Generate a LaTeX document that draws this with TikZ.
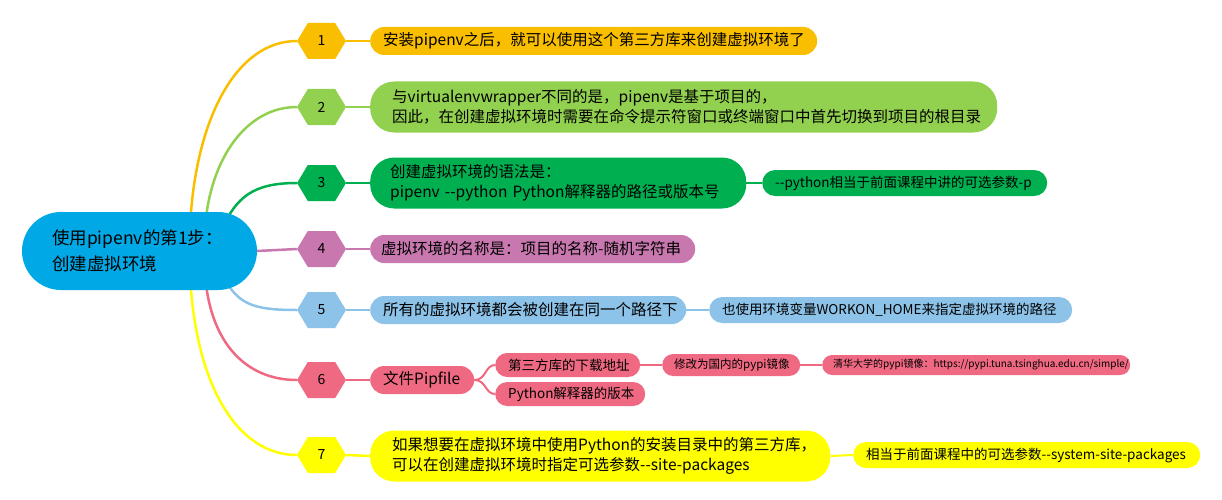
\documentclass[tikz,border=0pt]{standalone}
\usepackage{fontspec}
\setmainfont{Noto Sans CJK SC}
\usetikzlibrary{shapes.symbols,backgrounds}
\definecolor{croot}{RGB}{0,169,230}
\definecolor{c1}{RGB}{250,190,0}
\definecolor{c2}{RGB}{146,208,80}
\definecolor{c3}{RGB}{0,176,80}
\definecolor{c4}{RGB}{200,120,175}
\definecolor{c5}{RGB}{141,195,233}
\definecolor{c6}{RGB}{240,105,130}
\definecolor{c7}{RGB}{255,255,0}
\newcommand\myfs[2]{\fontsize{#1}{#2}\selectfont}
\newcommand\dd{-\kern0pt-}
\tikzset{
  hexa/.style={signal, signal to=east and west, signal pointer angle=118,
    minimum width=49pt, minimum height=36pt, inner sep=0pt, font=\myfs{14}{16}},
  tbox/.style={anchor=west, align=left, inner ysep=0pt, inner xsep=13pt},
  one/.style={tbox, minimum height=28pt, rounded corners=14pt, font=\myfs{15.5}{20}},
  two/.style={tbox, inner xsep=22pt, minimum height=51pt, rounded corners=24pt, font=\myfs{15.5}{20}},
  sec/.style={tbox, minimum height=26pt, rounded corners=13pt, font=\myfs{13.5}{16}},
  link/.style={line width=2.5pt},
  sublink/.style={line width=2pt},
}
\begin{document}
\begin{tikzpicture}[x=1pt,y=-1pt]
\useasboundingbox (0,0) rectangle (1222,500);
% root
\node[fill=croot, rounded corners=39pt, minimum height=78pt, text width=175pt,
  inner xsep=30pt, inner ysep=0pt, align=left, font=\myfs{17.5}{26}] (root) at (139.5,251)
  {使用pipenv的第1步：\\创建虚拟环境};
\coordinate (r1) at (190,228);
\coordinate (r2) at (205,228);
\coordinate (r3) at (222,228);
\coordinate (r5) at (222,274);
\coordinate (r6) at (205,274);
\coordinate (r7) at (190,274);
% hexagons
\node[hexa, fill=c1] (h1) at (321.5,41) {1};
\node[hexa, fill=c2] (h2) at (321.5,107) {2};
\node[hexa, fill=c3] (h3) at (321.5,183) {3};
\node[hexa, fill=c4] (h4) at (321.5,249) {4};
\node[hexa, fill=c5] (h5) at (321.5,310) {5};
\node[hexa, fill=c6] (h6) at (321.5,380) {6};
\node[hexa, fill=c7] (h7) at (321.5,455) {7};
% main boxes
\node[one, fill=c1, text width=421pt] (b1) at (370,41)
  {安装pipenv之后，就可以使用这个第三方库来创建虚拟环境了};
\node[two, fill=c2, text width=583pt] (b2) at (370,107)
  {与virtualenvwrapper不同的是，pipenv是基于项目的，\\因此，在创建虚拟环境时需要在命令提示符窗口或终端窗口中首先切换到项目的根目录};
\node[two, fill=c3, text width=336pt, inner xsep=20pt] (b3) at (370,183)
  {创建虚拟环境的语法是：\\pipenv~\dd python~Python解释器的路径或版本号};
\node[one, fill=c4, text width=303pt, inner xsep=11pt] (b4) at (370,249)
  {虚拟环境的名称是：项目的名称-随机字符串};
\node[one, fill=c5, text width=290pt] (b5) at (370,310)
  {所有的虚拟环境都会被创建在同一个路径下};
\node[one, fill=c6, text width=78pt] (b6) at (370,380) {文件Pipfile};
\node[two, fill=c7, text width=416pt] (b7) at (370,456)
  {如果想要在虚拟环境中使用Python的安装目录中的第三方库，\\可以在创建虚拟环境时指定可选参数\dd site-packages};
% secondary boxes
\node[sec, fill=c3, text width=259pt] (s3) at (762,183) {\dd python相当于前面课程中讲的可选参数-p};
\node[sec, fill=c5, text width=337pt] (s5) at (709,310) {也使用环境变量WORKON\_HOME来指定虚拟环境的路径};
\node[sec, fill=c7, text width=321pt] (s7) at (853,455) {相当于前面课程中的可选参数\dd system-site-packages};
\node[tbox, fill=c6, minimum height=24pt, rounded corners=12pt, text width=119pt,
  font=\myfs{13.5}{16}] (s61) at (495,365) {第三方库的下载地址};
\node[tbox, fill=c6, minimum height=24pt, rounded corners=12pt, text width=124pt,
  font=\myfs{13.5}{16}] (s62) at (495,394) {Python解释器的版本};
\node[tbox, fill=c6, minimum height=22pt, rounded corners=11pt, inner xsep=12pt, text width=114pt,
  font=\myfs{11.5}{14}] (s63) at (662,365) {修改为国内的pypi镜像};
\node[tbox, fill=c6, minimum height=20pt, rounded corners=10pt, inner xsep=11pt, text width=286pt,
  font=\myfs{10}{12}] (s64) at (822,365) {清华大学的pypi镜像：https://pypi.tuna.tsinghua.edu.cn/simple/};
% connectors
\begin{scope}[on background layer]
\draw[link, c1] (r1) .. controls +(5,-110) and +(-60,0) .. (h1.west);
\draw[link, c2] (r2) .. controls +(5,-70) and +(-50,0) .. (h2.west);
\draw[link, c3] (r3) .. controls +(15,-30) and +(-45,0) .. (h3.west);
\draw[link, c4] (root.east) -- (h4.west);
\draw[link, c5] (r5) .. controls +(15,30) and +(-45,0) .. (h5.west);
\draw[link, c6] (r6) .. controls +(5,70) and +(-50,0) .. (h6.west);
\draw[link, c7] (r7) .. controls +(5,110) and +(-60,0) .. (h7.west);
\draw[link, c1] (h1.east) -- (b1.west);
\draw[link, c2] (h2.east) -- (b2.west);
\draw[link, c3] (h3.east) -- (b3.west);
\draw[link, c4] (h4.east) -- (b4.west);
\draw[link, c5] (h5.east) -- (b5.west);
\draw[link, c6] (h6.east) -- (b6.west);
\draw[link, c7] (h7.east) -- (b7.west);
\draw[sublink, c3] (b3.east) -- (s3.west);
\draw[sublink, c5] (b5.east) -- (s5.west);
\draw[sublink, c7] (b7.east) -- (s7.west);
\draw[sublink, c6] (b6.east) .. controls +(12,0) and +(-10,0) .. (s61.west);
\draw[sublink, c6] (b6.east) .. controls +(12,0) and +(-10,0) .. (s62.west);
\draw[sublink, c6] (s61.east) -- (s63.west);
\draw[sublink, c6] (s63.east) -- (s64.west);
\end{scope}
\end{tikzpicture}
\end{document}
